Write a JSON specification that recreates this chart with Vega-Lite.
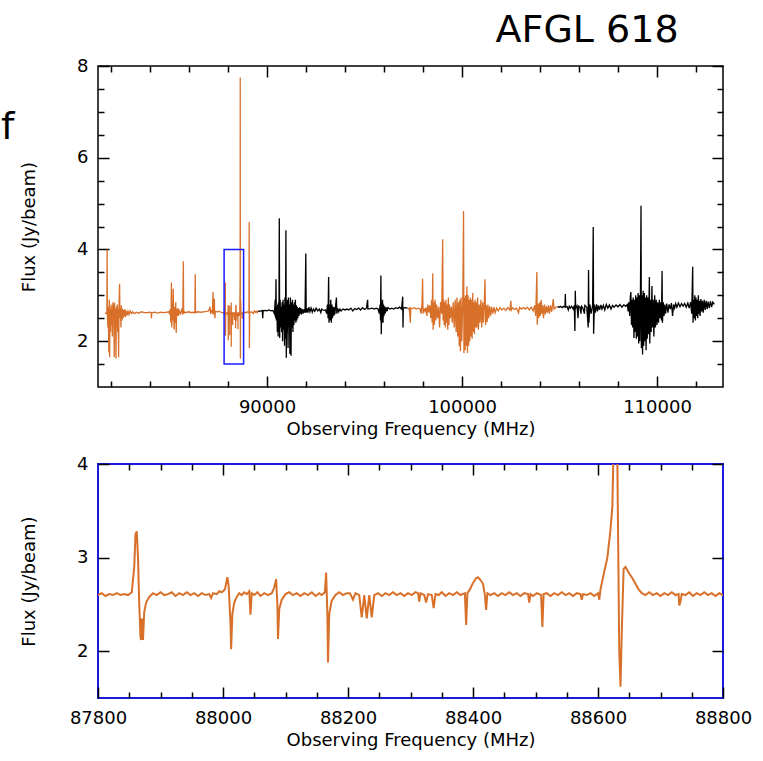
{
  "$schema": "https://vega.github.io/schema/vega-lite/v6.json",
  "background": "white",
  "padding": {"left": 0, "top": 12, "right": 0, "bottom": 0},
  "bounds": "flush",
  "spacing": 77,
  "title": {"text": "AFGL 618", "font": "DejaVu Sans", "fontSize": 38, "fontWeight": "normal", "color": "black", "anchor": "end", "dx": -74, "offset": 6},
  "config": {
    "axis": {"labelFont": "DejaVu Sans", "labelFontSize": 18, "labelColor": "black", "titleFont": "DejaVu Sans", "titleFontSize": 18, "titleFontWeight": "normal", "titleColor": "black", "tickColor": "black", "tickWidth": 1.5, "domain": false, "grid": false, "labelFlush": false, "labelOverlap": false}
  },
  "datasets": {
    "spec": [
      {"f":81700,"v":2.62,"s":"o1"},{"f":81760,"v":2.6,"s":"o1"},{"f":81790,"v":2.62,"s":"o1"},{"f":81800,"v":4.0,"s":"o1"},{"f":81815,"v":2.6,"s":"o1"},{"f":81840,"v":2.3,"s":"o1"},{"f":81860,"v":2.75,"s":"o1"},{"f":81890,"v":1.75,"s":"o1"},{"f":81910,"v":2.9,"s":"o1"},{"f":81930,"v":1.65,"s":"o1"},{"f":81950,"v":2.7,"s":"o1"},{"f":81975,"v":2.2,"s":"o1"},{"f":82000,"v":2.8,"s":"o1"},{"f":82020,"v":2.35,"s":"o1"},{"f":82045,"v":2.75,"s":"o1"},{"f":82070,"v":2.1,"s":"o1"},{"f":82095,"v":2.85,"s":"o1"},{"f":82115,"v":2.45,"s":"o1"},{"f":82140,"v":2.8,"s":"o1"},{"f":82165,"v":1.65,"s":"o1"},{"f":82185,"v":2.84,"s":"o1"},{"f":82205,"v":2.25,"s":"o1"},{"f":82230,"v":2.7,"s":"o1"},{"f":82255,"v":1.62,"s":"o1"},{"f":82275,"v":2.75,"s":"o1"},{"f":82300,"v":2.3,"s":"o1"},{"f":82320,"v":2.8,"s":"o1"},{"f":82345,"v":2.2,"s":"o1"},{"f":82365,"v":2.7,"s":"o1"},{"f":82390,"v":1.65,"s":"o1"},{"f":82410,"v":2.75,"s":"o1"},{"f":82440,"v":3.25,"s":"o1"},{"f":82460,"v":2.5,"s":"o1"},{"f":82485,"v":2.72,"s":"o1"},{"f":82510,"v":2.3,"s":"o1"},{"f":82535,"v":2.78,"s":"o1"},{"f":82560,"v":2.45,"s":"o1"},{"f":82590,"v":2.7,"s":"o1"},{"f":82620,"v":2.5,"s":"o1"},{"f":82650,"v":2.68,"s":"o1"},{"f":82680,"v":2.55,"s":"o1"},{"f":82710,"v":2.7,"s":"o1"},{"f":82740,"v":2.52,"s":"o1"},{"f":82780,"v":2.66,"s":"o1"},{"f":82820,"v":2.56,"s":"o1"},{"f":82870,"v":2.65,"s":"o1"},{"f":82920,"v":2.58,"s":"o1"},{"f":82980,"v":2.66,"s":"o1"},{"f":83050,"v":2.6,"s":"o1"},{"f":83120,"v":2.64,"s":"o1"},{"f":83200,"v":2.6,"s":"o1"},{"f":83300,"v":2.63,"s":"o1"},{"f":83420,"v":2.61,"s":"o1"},{"f":83560,"v":2.64,"s":"o1"},{"f":83700,"v":2.62,"s":"o1"},{"f":83850,"v":2.62,"s":"o1"},{"f":84000,"v":2.63,"s":"o1"},{"f":84060,"v":2.62,"s":"o1"},{"f":84075,"v":2.5,"s":"o1"},{"f":84090,"v":2.62,"s":"o1"},{"f":84250,"v":2.63,"s":"o1"},{"f":84400,"v":2.61,"s":"o1"},{"f":84550,"v":2.63,"s":"o1"},{"f":84700,"v":2.62,"s":"o1"},{"f":84850,"v":2.63,"s":"o1"},{"f":84950,"v":2.64,"s":"o1"},{"f":85000,"v":2.6,"s":"o1"},{"f":85040,"v":2.7,"s":"o1"},{"f":85070,"v":2.4,"s":"o1"},{"f":85100,"v":3.28,"s":"o1"},{"f":85120,"v":2.3,"s":"o1"},{"f":85145,"v":2.8,"s":"o1"},{"f":85165,"v":2.45,"s":"o1"},{"f":85190,"v":3.14,"s":"o1"},{"f":85210,"v":2.6,"s":"o1"},{"f":85240,"v":2.25,"s":"o1"},{"f":85265,"v":2.75,"s":"o1"},{"f":85290,"v":2.4,"s":"o1"},{"f":85320,"v":2.85,"s":"o1"},{"f":85345,"v":2.18,"s":"o1"},{"f":85370,"v":2.7,"s":"o1"},{"f":85400,"v":2.55,"s":"o1"},{"f":85430,"v":2.72,"s":"o1"},{"f":85460,"v":2.55,"s":"o1"},{"f":85500,"v":2.66,"s":"o1"},{"f":85560,"v":2.6,"s":"o1"},{"f":85620,"v":2.68,"s":"o1"},{"f":85680,"v":2.58,"s":"o1"},{"f":85710,"v":3.74,"s":"o1"},{"f":85725,"v":2.6,"s":"o1"},{"f":85760,"v":2.64,"s":"o1"},{"f":85800,"v":2.62,"s":"o1"},{"f":85900,"v":2.63,"s":"o1"},{"f":86000,"v":2.64,"s":"o1"},{"f":86100,"v":2.62,"s":"o1"},{"f":86200,"v":2.63,"s":"o1"},{"f":86300,"v":2.62,"s":"o1"},{"f":86320,"v":3.46,"s":"o1"},{"f":86335,"v":2.62,"s":"o1"},{"f":86450,"v":2.64,"s":"o1"},{"f":86600,"v":2.63,"s":"o1"},{"f":86750,"v":2.64,"s":"o1"},{"f":86900,"v":2.65,"s":"o1"},{"f":87000,"v":2.66,"s":"o1"},{"f":87080,"v":2.75,"s":"o1"},{"f":87100,"v":2.62,"s":"o1"},{"f":87150,"v":2.66,"s":"o1"},{"f":87200,"v":2.6,"s":"o1"},{"f":87230,"v":3.07,"s":"o1"},{"f":87245,"v":2.6,"s":"o1"},{"f":87280,"v":2.62,"s":"o1"},{"f":87300,"v":2.93,"s":"o1"},{"f":87315,"v":2.6,"s":"o1"},{"f":87330,"v":2.5,"s":"o1"},{"f":87350,"v":2.65,"s":"o1"},{"f":87450,"v":2.64,"s":"o1"},{"f":87550,"v":2.65,"s":"o1"},{"f":87650,"v":2.63,"s":"o1"},{"f":87720,"v":2.62,"s":"o1"},
      {"f":87780,"v":2.61,"s":"o1"},{"f":87800,"v":2.6,"s":"o1"},{"f":87806,"v":2.62,"s":"o1"},{"f":87812,"v":2.59,"s":"o1"},{"f":87818,"v":2.61,"s":"o1"},{"f":87824,"v":2.6,"s":"o1"},{"f":87830,"v":2.62,"s":"o1"},{"f":87836,"v":2.6,"s":"o1"},{"f":87842,"v":2.61,"s":"o1"},{"f":87848,"v":2.6,"s":"o1"},{"f":87854,"v":2.63,"s":"o1"},{"f":87858,"v":2.9,"s":"o1"},{"f":87860,"v":3.25,"s":"o1"},{"f":87862,"v":3.28,"s":"o1"},{"f":87864,"v":3.0,"s":"o1"},{"f":87866,"v":2.5,"s":"o1"},{"f":87868,"v":2.15,"s":"o1"},{"f":87869,"v":2.12,"s":"o1"},{"f":87870,"v":2.35,"s":"o1"},{"f":87871,"v":2.3,"s":"o1"},{"f":87872,"v":2.12,"s":"o1"},{"f":87874,"v":2.42,"s":"o1"},{"f":87877,"v":2.52,"s":"o1"},{"f":87882,"v":2.58,"s":"o1"},{"f":87888,"v":2.62,"s":"o1"},{"f":87894,"v":2.6,"s":"o1"},{"f":87900,"v":2.63,"s":"o1"},{"f":87906,"v":2.6,"s":"o1"},{"f":87912,"v":2.61,"s":"o1"},{"f":87918,"v":2.63,"s":"o1"},{"f":87924,"v":2.59,"s":"o1"},{"f":87930,"v":2.62,"s":"o1"},{"f":87936,"v":2.6,"s":"o1"},{"f":87942,"v":2.63,"s":"o1"},{"f":87948,"v":2.6,"s":"o1"},{"f":87954,"v":2.62,"s":"o1"},{"f":87960,"v":2.59,"s":"o1"},{"f":87966,"v":2.62,"s":"o1"},{"f":87972,"v":2.6,"s":"o1"},{"f":87978,"v":2.61,"s":"o1"},{"f":87981,"v":2.57,"s":"o1"},{"f":87984,"v":2.62,"s":"o1"},{"f":87990,"v":2.61,"s":"o1"},{"f":87994,"v":2.64,"s":"o1"},{"f":87998,"v":2.63,"s":"o1"},{"f":88003,"v":2.66,"s":"o1"},{"f":88007,"v":2.79,"s":"o1"},{"f":88009,"v":2.7,"s":"o1"},{"f":88012,"v":2.3,"s":"o1"},{"f":88013,"v":2.02,"s":"o1"},{"f":88015,"v":2.4,"s":"o1"},{"f":88018,"v":2.52,"s":"o1"},{"f":88022,"v":2.58,"s":"o1"},{"f":88026,"v":2.62,"s":"o1"},{"f":88030,"v":2.6,"s":"o1"},{"f":88034,"v":2.63,"s":"o1"},{"f":88038,"v":2.61,"s":"o1"},{"f":88042,"v":2.64,"s":"o1"},{"f":88044,"v":2.39,"s":"o1"},{"f":88046,"v":2.62,"s":"o1"},{"f":88050,"v":2.6,"s":"o1"},{"f":88055,"v":2.63,"s":"o1"},{"f":88060,"v":2.59,"s":"o1"},{"f":88066,"v":2.62,"s":"o1"},{"f":88072,"v":2.6,"s":"o1"},{"f":88078,"v":2.62,"s":"o1"},{"f":88082,"v":2.68,"s":"o1"},{"f":88085,"v":2.77,"s":"o1"},{"f":88087,"v":2.5,"s":"o1"},{"f":88088,"v":2.13,"s":"o1"},{"f":88090,"v":2.45,"s":"o1"},{"f":88094,"v":2.55,"s":"o1"},{"f":88100,"v":2.61,"s":"o1"},{"f":88106,"v":2.63,"s":"o1"},{"f":88112,"v":2.6,"s":"o1"},{"f":88118,"v":2.62,"s":"o1"},{"f":88124,"v":2.59,"s":"o1"},{"f":88130,"v":2.62,"s":"o1"},{"f":88136,"v":2.6,"s":"o1"},{"f":88142,"v":2.63,"s":"o1"},{"f":88148,"v":2.59,"s":"o1"},{"f":88154,"v":2.62,"s":"o1"},{"f":88158,"v":2.6,"s":"o1"},{"f":88163,"v":2.63,"s":"o1"},{"f":88165,"v":2.84,"s":"o1"},{"f":88167,"v":2.4,"s":"o1"},{"f":88168,"v":1.88,"s":"o1"},{"f":88170,"v":2.4,"s":"o1"},{"f":88174,"v":2.54,"s":"o1"},{"f":88180,"v":2.6,"s":"o1"},{"f":88186,"v":2.63,"s":"o1"},{"f":88192,"v":2.6,"s":"o1"},{"f":88198,"v":2.62,"s":"o1"},{"f":88203,"v":2.62,"s":"o1"},{"f":88208,"v":2.55,"s":"o1"},{"f":88212,"v":2.62,"s":"o1"},{"f":88218,"v":2.6,"s":"o1"},{"f":88222,"v":2.36,"s":"o1"},{"f":88226,"v":2.6,"s":"o1"},{"f":88230,"v":2.35,"s":"o1"},{"f":88234,"v":2.6,"s":"o1"},{"f":88238,"v":2.36,"s":"o1"},{"f":88242,"v":2.6,"s":"o1"},{"f":88248,"v":2.62,"s":"o1"},{"f":88254,"v":2.59,"s":"o1"},{"f":88260,"v":2.62,"s":"o1"},{"f":88266,"v":2.6,"s":"o1"},{"f":88272,"v":2.63,"s":"o1"},{"f":88278,"v":2.6,"s":"o1"},{"f":88284,"v":2.62,"s":"o1"},{"f":88290,"v":2.59,"s":"o1"},{"f":88296,"v":2.62,"s":"o1"},{"f":88302,"v":2.6,"s":"o1"},{"f":88308,"v":2.63,"s":"o1"},{"f":88312,"v":2.62,"s":"o1"},{"f":88314,"v":2.53,"s":"o1"},{"f":88316,"v":2.62,"s":"o1"},{"f":88322,"v":2.6,"s":"o1"},{"f":88325,"v":2.52,"s":"o1"},{"f":88328,"v":2.61,"s":"o1"},{"f":88334,"v":2.6,"s":"o1"},{"f":88337,"v":2.46,"s":"o1"},{"f":88340,"v":2.61,"s":"o1"},{"f":88345,"v":2.6,"s":"o1"},{"f":88350,"v":2.63,"s":"o1"},{"f":88356,"v":2.59,"s":"o1"},{"f":88362,"v":2.62,"s":"o1"},{"f":88368,"v":2.6,"s":"o1"},{"f":88374,"v":2.63,"s":"o1"},{"f":88380,"v":2.6,"s":"o1"},{"f":88387,"v":2.62,"s":"o1"},{"f":88389,"v":2.28,"s":"o1"},{"f":88391,"v":2.62,"s":"o1"},{"f":88395,"v":2.66,"s":"o1"},{"f":88400,"v":2.73,"s":"o1"},{"f":88405,"v":2.78,"s":"o1"},{"f":88408,"v":2.79,"s":"o1"},{"f":88412,"v":2.76,"s":"o1"},{"f":88416,"v":2.72,"s":"o1"},{"f":88419,"v":2.6,"s":"o1"},{"f":88421,"v":2.44,"s":"o1"},{"f":88423,"v":2.62,"s":"o1"},{"f":88428,"v":2.6,"s":"o1"},{"f":88434,"v":2.62,"s":"o1"},{"f":88440,"v":2.59,"s":"o1"},{"f":88446,"v":2.62,"s":"o1"},{"f":88452,"v":2.6,"s":"o1"},{"f":88458,"v":2.63,"s":"o1"},{"f":88464,"v":2.6,"s":"o1"},{"f":88470,"v":2.62,"s":"o1"},{"f":88476,"v":2.59,"s":"o1"},{"f":88482,"v":2.62,"s":"o1"},{"f":88488,"v":2.61,"s":"o1"},{"f":88490,"v":2.52,"s":"o1"},{"f":88492,"v":2.61,"s":"o1"},{"f":88496,"v":2.59,"s":"o1"},{"f":88502,"v":2.62,"s":"o1"},{"f":88509,"v":2.6,"s":"o1"},{"f":88511,"v":2.26,"s":"o1"},{"f":88513,"v":2.61,"s":"o1"},{"f":88518,"v":2.62,"s":"o1"},{"f":88524,"v":2.59,"s":"o1"},{"f":88530,"v":2.62,"s":"o1"},{"f":88536,"v":2.6,"s":"o1"},{"f":88542,"v":2.63,"s":"o1"},{"f":88548,"v":2.6,"s":"o1"},{"f":88554,"v":2.62,"s":"o1"},{"f":88560,"v":2.59,"s":"o1"},{"f":88566,"v":2.62,"s":"o1"},{"f":88572,"v":2.61,"s":"o1"},{"f":88574,"v":2.55,"s":"o1"},{"f":88576,"v":2.61,"s":"o1"},{"f":88582,"v":2.6,"s":"o1"},{"f":88588,"v":2.62,"s":"o1"},{"f":88594,"v":2.59,"s":"o1"},{"f":88600,"v":2.62,"s":"o1"},{"f":88602,"v":2.55,"s":"o1"},{"f":88604,"v":2.66,"s":"o1"},{"f":88610,"v":2.85,"s":"o1"},{"f":88615,"v":3.0,"s":"o1"},{"f":88620,"v":3.3,"s":"o1"},{"f":88623,"v":3.55,"s":"o1"},{"f":88625,"v":4.2,"s":"o1"},{"f":88627,"v":7.75,"s":"o1"},{"f":88631,"v":4.0,"s":"o1"},{"f":88634,"v":2.0,"s":"o1"},{"f":88636,"v":1.62,"s":"o1"},{"f":88638,"v":2.2,"s":"o1"},{"f":88641,"v":2.88,"s":"o1"},{"f":88644,"v":2.9,"s":"o1"},{"f":88650,"v":2.83,"s":"o1"},{"f":88655,"v":2.78,"s":"o1"},{"f":88660,"v":2.72,"s":"o1"},{"f":88665,"v":2.66,"s":"o1"},{"f":88670,"v":2.62,"s":"o1"},{"f":88676,"v":2.6,"s":"o1"},{"f":88682,"v":2.63,"s":"o1"},{"f":88688,"v":2.6,"s":"o1"},{"f":88694,"v":2.62,"s":"o1"},{"f":88700,"v":2.59,"s":"o1"},{"f":88706,"v":2.62,"s":"o1"},{"f":88712,"v":2.6,"s":"o1"},{"f":88718,"v":2.63,"s":"o1"},{"f":88724,"v":2.6,"s":"o1"},{"f":88729,"v":2.61,"s":"o1"},{"f":88730,"v":2.49,"s":"o1"},{"f":88732,"v":2.53,"s":"o1"},{"f":88734,"v":2.61,"s":"o1"},{"f":88740,"v":2.6,"s":"o1"},{"f":88746,"v":2.63,"s":"o1"},{"f":88752,"v":2.59,"s":"o1"},{"f":88758,"v":2.62,"s":"o1"},{"f":88764,"v":2.6,"s":"o1"},{"f":88770,"v":2.63,"s":"o1"},{"f":88776,"v":2.6,"s":"o1"},{"f":88782,"v":2.62,"s":"o1"},{"f":88788,"v":2.59,"s":"o1"},{"f":88794,"v":2.62,"s":"o1"},{"f":88800,"v":2.6,"s":"o1"},{"f":88806,"v":2.62,"s":"o1"},{"f":88812,"v":2.61,"s":"o1"},
      {"f":88900,"v":2.63,"s":"o1"},{"f":88950,"v":2.62,"s":"o1"},{"f":89000,"v":2.64,"s":"o1"},{"f":89050,"v":2.62,"s":"o1"},{"f":89075,"v":2.63,"s":"o1"},{"f":89085,"v":4.6,"s":"o1"},{"f":89095,"v":1.85,"s":"o1"},{"f":89110,"v":2.62,"s":"o1"},{"f":89200,"v":2.64,"s":"o1"},{"f":89300,"v":2.6,"s":"o1"},{"f":89350,"v":2.66,"s":"o1"},{"f":89400,"v":2.63,"s":"o1"},{"f":89450,"v":2.65,"s":"o1"},{"f":89500,"v":2.62,"s":"o1"},{"f":89540,"v":2.66,"s":"o1"},
      {"f":89540,"v":2.66,"s":"k1"},{"f":89600,"v":2.65,"s":"k1"},{"f":89700,"v":2.66,"s":"k1"},{"f":89760,"v":2.67,"s":"k1"},{"f":89780,"v":2.5,"s":"k1"},{"f":89800,"v":2.66,"s":"k1"},{"f":89900,"v":2.67,"s":"k1"},{"f":90000,"v":2.66,"s":"k1"},{"f":90100,"v":2.68,"s":"k1"},{"f":90200,"v":2.66,"s":"k1"},{"f":90300,"v":2.67,"s":"k1"},{"f":90380,"v":2.6,"s":"k1"},{"f":90420,"v":2.9,"s":"k1"},{"f":90440,"v":2.5,"s":"k1"},{"f":90460,"v":3.35,"s":"k1"},{"f":90480,"v":2.45,"s":"k1"},{"f":90510,"v":2.75,"s":"k1"},{"f":90530,"v":2.2,"s":"k1"},{"f":90550,"v":2.8,"s":"k1"},{"f":90570,"v":2.1,"s":"k1"},{"f":90590,"v":2.85,"s":"k1"},{"f":90610,"v":2.2,"s":"k1"},{"f":90630,"v":4.68,"s":"k1"},{"f":90650,"v":2.07,"s":"k1"},{"f":90675,"v":2.9,"s":"k1"},{"f":90700,"v":2.3,"s":"k1"},{"f":90725,"v":2.75,"s":"k1"},{"f":90750,"v":2.2,"s":"k1"},{"f":90775,"v":2.85,"s":"k1"},{"f":90800,"v":2.0,"s":"k1"},{"f":90825,"v":2.9,"s":"k1"},{"f":90850,"v":2.25,"s":"k1"},{"f":90875,"v":2.8,"s":"k1"},{"f":90900,"v":1.9,"s":"k1"},{"f":90920,"v":2.95,"s":"k1"},{"f":90945,"v":2.05,"s":"k1"},{"f":90970,"v":4.42,"s":"k1"},{"f":90990,"v":1.64,"s":"k1"},{"f":91010,"v":2.85,"s":"k1"},{"f":91030,"v":2.2,"s":"k1"},{"f":91055,"v":2.9,"s":"k1"},{"f":91080,"v":1.85,"s":"k1"},{"f":91100,"v":2.95,"s":"k1"},{"f":91125,"v":2.3,"s":"k1"},{"f":91150,"v":2.8,"s":"k1"},{"f":91175,"v":1.72,"s":"k1"},{"f":91200,"v":2.95,"s":"k1"},{"f":91230,"v":1.68,"s":"k1"},{"f":91255,"v":2.85,"s":"k1"},{"f":91280,"v":2.3,"s":"k1"},{"f":91305,"v":2.9,"s":"k1"},{"f":91330,"v":2.2,"s":"k1"},{"f":91355,"v":2.8,"s":"k1"},{"f":91380,"v":2.35,"s":"k1"},{"f":91405,"v":2.85,"s":"k1"},{"f":91430,"v":2.45,"s":"k1"},{"f":91455,"v":2.9,"s":"k1"},{"f":91480,"v":2.4,"s":"k1"},{"f":91505,"v":2.78,"s":"k1"},{"f":91530,"v":2.45,"s":"k1"},{"f":91555,"v":2.75,"s":"k1"},{"f":91580,"v":2.5,"s":"k1"},{"f":91610,"v":2.72,"s":"k1"},{"f":91640,"v":2.55,"s":"k1"},{"f":91670,"v":2.74,"s":"k1"},{"f":91700,"v":2.6,"s":"k1"},{"f":91730,"v":2.72,"s":"k1"},{"f":91760,"v":2.58,"s":"k1"},{"f":91800,"v":2.7,"s":"k1"},{"f":91850,"v":2.6,"s":"k1"},{"f":91900,"v":2.7,"s":"k1"},{"f":91950,"v":2.62,"s":"k1"},{"f":91990,"v":3.91,"s":"k1"},{"f":92010,"v":2.62,"s":"k1"},{"f":92050,"v":2.72,"s":"k1"},{"f":92100,"v":2.62,"s":"k1"},{"f":92150,"v":2.74,"s":"k1"},{"f":92200,"v":2.64,"s":"k1"},{"f":92260,"v":2.72,"s":"k1"},{"f":92320,"v":2.63,"s":"k1"},{"f":92380,"v":2.7,"s":"k1"},{"f":92450,"v":2.65,"s":"k1"},{"f":92520,"v":2.72,"s":"k1"},{"f":92600,"v":2.66,"s":"k1"},{"f":92680,"v":2.7,"s":"k1"},{"f":92760,"v":2.62,"s":"k1"},{"f":92800,"v":2.7,"s":"k1"},{"f":92900,"v":2.67,"s":"k1"},{"f":93000,"v":2.68,"s":"k1"},{"f":93060,"v":2.6,"s":"k1"},{"f":93100,"v":2.8,"s":"k1"},{"f":93130,"v":2.5,"s":"k1"},{"f":93160,"v":3.4,"s":"k1"},{"f":93180,"v":2.4,"s":"k1"},{"f":93210,"v":2.8,"s":"k1"},{"f":93240,"v":2.45,"s":"k1"},{"f":93270,"v":2.9,"s":"k1"},{"f":93300,"v":2.4,"s":"k1"},{"f":93330,"v":2.8,"s":"k1"},{"f":93360,"v":2.5,"s":"k1"},{"f":93390,"v":2.75,"s":"k1"},{"f":93420,"v":2.55,"s":"k1"},{"f":93450,"v":2.74,"s":"k1"},{"f":93480,"v":2.58,"s":"k1"},{"f":93520,"v":2.78,"s":"k1"},{"f":93560,"v":2.95,"s":"k1"},{"f":93580,"v":2.6,"s":"k1"},{"f":93620,"v":2.72,"s":"k1"},{"f":93680,"v":2.64,"s":"k1"},{"f":93740,"v":2.7,"s":"k1"},{"f":93800,"v":2.66,"s":"k1"},{"f":93900,"v":2.7,"s":"k1"},{"f":94000,"v":2.68,"s":"k1"},{"f":94100,"v":2.7,"s":"k1"},{"f":94200,"v":2.68,"s":"k1"},{"f":94300,"v":2.72,"s":"k1"},{"f":94400,"v":2.66,"s":"k1"},{"f":94500,"v":2.71,"s":"k1"},{"f":94600,"v":2.69,"s":"k1"},{"f":94700,"v":2.72,"s":"k1"},{"f":94800,"v":2.68,"s":"k1"},{"f":94900,"v":2.73,"s":"k1"},{"f":95000,"v":2.69,"s":"k1"},{"f":95100,"v":2.72,"s":"k1"},{"f":95160,"v":2.9,"s":"k1"},{"f":95175,"v":2.7,"s":"k1"},{"f":95300,"v":2.71,"s":"k1"},{"f":95400,"v":2.72,"s":"k1"},{"f":95500,"v":2.7,"s":"k1"},{"f":95600,"v":2.72,"s":"k1"},{"f":95700,"v":2.7,"s":"k1"},{"f":95760,"v":2.6,"s":"k1"},{"f":95800,"v":2.8,"s":"k1"},{"f":95820,"v":2.45,"s":"k1"},{"f":95840,"v":3.43,"s":"k1"},{"f":95860,"v":2.15,"s":"k1"},{"f":95880,"v":2.85,"s":"k1"},{"f":95900,"v":2.4,"s":"k1"},{"f":95925,"v":2.9,"s":"k1"},{"f":95950,"v":2.4,"s":"k1"},{"f":95975,"v":2.8,"s":"k1"},{"f":96000,"v":2.55,"s":"k1"},{"f":96030,"v":2.76,"s":"k1"},{"f":96060,"v":2.6,"s":"k1"},{"f":96100,"v":2.74,"s":"k1"},{"f":96150,"v":2.65,"s":"k1"},{"f":96200,"v":2.73,"s":"k1"},{"f":96300,"v":2.7,"s":"k1"},{"f":96400,"v":2.72,"s":"k1"},{"f":96500,"v":2.7,"s":"k1"},{"f":96600,"v":2.73,"s":"k1"},{"f":96700,"v":2.71,"s":"k1"},{"f":96800,"v":2.74,"s":"k1"},{"f":96900,"v":2.7,"s":"k1"},{"f":96960,"v":2.97,"s":"k1"},{"f":96975,"v":2.3,"s":"k1"},{"f":96990,"v":2.72,"s":"k1"},{"f":97100,"v":2.73,"s":"k1"},{"f":97210,"v":2.72,"s":"k1"},
      {"f":97210,"v":2.72,"s":"o2"},{"f":97260,"v":2.7,"s":"o2"},{"f":97300,"v":2.72,"s":"o2"},{"f":97350,"v":2.4,"s":"o2"},{"f":97370,"v":2.72,"s":"o2"},{"f":97450,"v":2.71,"s":"o2"},{"f":97550,"v":2.73,"s":"o2"},{"f":97650,"v":2.7,"s":"o2"},{"f":97750,"v":2.72,"s":"o2"},{"f":97850,"v":2.7,"s":"o2"},{"f":97900,"v":2.6,"s":"o2"},{"f":97950,"v":2.82,"s":"o2"},{"f":97980,"v":3.36,"s":"o2"},{"f":98000,"v":2.6,"s":"o2"},{"f":98050,"v":2.72,"s":"o2"},{"f":98100,"v":2.65,"s":"o2"},{"f":98150,"v":2.73,"s":"o2"},{"f":98200,"v":2.55,"s":"o2"},{"f":98250,"v":2.8,"s":"o2"},{"f":98300,"v":2.62,"s":"o2"},{"f":98350,"v":2.78,"s":"o2"},{"f":98400,"v":2.5,"s":"o2"},{"f":98440,"v":2.9,"s":"o2"},{"f":98470,"v":2.4,"s":"o2"},{"f":98500,"v":3.48,"s":"o2"},{"f":98520,"v":2.25,"s":"o2"},{"f":98550,"v":2.85,"s":"o2"},{"f":98580,"v":2.35,"s":"o2"},{"f":98620,"v":2.9,"s":"o2"},{"f":98660,"v":2.45,"s":"o2"},{"f":98700,"v":2.8,"s":"o2"},{"f":98750,"v":2.5,"s":"o2"},{"f":98800,"v":2.75,"s":"o2"},{"f":98850,"v":2.3,"s":"o2"},{"f":98900,"v":2.85,"s":"o2"},{"f":98960,"v":2.6,"s":"o2"},{"f":99010,"v":4.22,"s":"o2"},{"f":99030,"v":2.45,"s":"o2"},{"f":99060,"v":2.9,"s":"o2"},{"f":99090,"v":2.35,"s":"o2"},{"f":99120,"v":2.85,"s":"o2"},{"f":99150,"v":2.3,"s":"o2"},{"f":99180,"v":2.9,"s":"o2"},{"f":99210,"v":2.4,"s":"o2"},{"f":99240,"v":2.8,"s":"o2"},{"f":99270,"v":2.25,"s":"o2"},{"f":99300,"v":2.95,"s":"o2"},{"f":99330,"v":2.35,"s":"o2"},{"f":99360,"v":2.8,"s":"o2"},{"f":99400,"v":2.5,"s":"o2"},{"f":99450,"v":2.75,"s":"o2"},{"f":99500,"v":2.4,"s":"o2"},{"f":99550,"v":2.85,"s":"o2"},{"f":99600,"v":2.3,"s":"o2"},{"f":99650,"v":2.9,"s":"o2"},{"f":99700,"v":2.2,"s":"o2"},{"f":99740,"v":2.95,"s":"o2"},{"f":99780,"v":2.1,"s":"o2"},{"f":99820,"v":2.85,"s":"o2"},{"f":99860,"v":1.89,"s":"o2"},{"f":99890,"v":2.9,"s":"o2"},{"f":99920,"v":1.78,"s":"o2"},{"f":99950,"v":2.95,"s":"o2"},{"f":99990,"v":2.0,"s":"o2"},{"f":100040,"v":2.9,"s":"o2"},{"f":100080,"v":4.84,"s":"o2"},{"f":100100,"v":1.74,"s":"o2"},{"f":100130,"v":2.95,"s":"o2"},{"f":100160,"v":1.8,"s":"o2"},{"f":100190,"v":3.0,"s":"o2"},{"f":100220,"v":1.9,"s":"o2"},{"f":100250,"v":3.19,"s":"o2"},{"f":100280,"v":1.74,"s":"o2"},{"f":100310,"v":3.0,"s":"o2"},{"f":100340,"v":1.9,"s":"o2"},{"f":100370,"v":2.9,"s":"o2"},{"f":100400,"v":2.0,"s":"o2"},{"f":100430,"v":2.95,"s":"o2"},{"f":100460,"v":2.1,"s":"o2"},{"f":100490,"v":2.9,"s":"o2"},{"f":100520,"v":2.05,"s":"o2"},{"f":100550,"v":3.05,"s":"o2"},{"f":100580,"v":2.2,"s":"o2"},{"f":100610,"v":2.85,"s":"o2"},{"f":100640,"v":2.15,"s":"o2"},{"f":100670,"v":2.9,"s":"o2"},{"f":100700,"v":2.3,"s":"o2"},{"f":100730,"v":2.85,"s":"o2"},{"f":100760,"v":2.3,"s":"o2"},{"f":100800,"v":2.95,"s":"o2"},{"f":100840,"v":2.25,"s":"o2"},{"f":100880,"v":2.8,"s":"o2"},{"f":100920,"v":2.4,"s":"o2"},{"f":100970,"v":2.9,"s":"o2"},{"f":101010,"v":2.3,"s":"o2"},{"f":101060,"v":2.85,"s":"o2"},{"f":101100,"v":2.4,"s":"o2"},{"f":101140,"v":2.8,"s":"o2"},{"f":101180,"v":3.35,"s":"o2"},{"f":101210,"v":2.35,"s":"o2"},{"f":101250,"v":2.78,"s":"o2"},{"f":101290,"v":2.42,"s":"o2"},{"f":101330,"v":2.8,"s":"o2"},{"f":101370,"v":2.5,"s":"o2"},{"f":101420,"v":2.76,"s":"o2"},{"f":101470,"v":2.55,"s":"o2"},{"f":101520,"v":2.75,"s":"o2"},{"f":101580,"v":2.6,"s":"o2"},{"f":101640,"v":2.74,"s":"o2"},{"f":101700,"v":2.62,"s":"o2"},{"f":101780,"v":2.72,"s":"o2"},{"f":101860,"v":2.66,"s":"o2"},{"f":101950,"v":2.73,"s":"o2"},{"f":102050,"v":2.68,"s":"o2"},{"f":102150,"v":2.72,"s":"o2"},{"f":102250,"v":2.67,"s":"o2"},{"f":102350,"v":2.73,"s":"o2"},{"f":102450,"v":2.68,"s":"o2"},{"f":102510,"v":2.88,"s":"o2"},{"f":102530,"v":2.68,"s":"o2"},{"f":102600,"v":2.73,"s":"o2"},{"f":102700,"v":2.69,"s":"o2"},{"f":102800,"v":2.72,"s":"o2"},{"f":102900,"v":2.62,"s":"o2"},{"f":102950,"v":2.74,"s":"o2"},{"f":103050,"v":2.7,"s":"o2"},{"f":103150,"v":2.73,"s":"o2"},{"f":103250,"v":2.7,"s":"o2"},{"f":103350,"v":2.74,"s":"o2"},{"f":103450,"v":2.68,"s":"o2"},{"f":103550,"v":2.74,"s":"o2"},{"f":103650,"v":2.66,"s":"o2"},{"f":103720,"v":2.78,"s":"o2"},{"f":103780,"v":2.55,"s":"o2"},{"f":103840,"v":3.51,"s":"o2"},{"f":103860,"v":2.36,"s":"o2"},{"f":103900,"v":2.82,"s":"o2"},{"f":103940,"v":2.5,"s":"o2"},{"f":103980,"v":2.85,"s":"o2"},{"f":104020,"v":2.55,"s":"o2"},{"f":104060,"v":2.9,"s":"o2"},{"f":104100,"v":2.6,"s":"o2"},{"f":104140,"v":2.78,"s":"o2"},{"f":104180,"v":2.5,"s":"o2"},{"f":104230,"v":2.8,"s":"o2"},{"f":104280,"v":2.58,"s":"o2"},{"f":104330,"v":2.76,"s":"o2"},{"f":104380,"v":2.62,"s":"o2"},{"f":104430,"v":2.78,"s":"o2"},{"f":104480,"v":2.6,"s":"o2"},{"f":104540,"v":2.78,"s":"o2"},{"f":104600,"v":2.64,"s":"o2"},{"f":104680,"v":2.92,"s":"o2"},{"f":104720,"v":2.7,"s":"o2"},{"f":104800,"v":2.74,"s":"o2"},{"f":104900,"v":2.74,"s":"o2"},
      {"f":104900,"v":2.74,"s":"k2"},{"f":104950,"v":2.75,"s":"k2"},{"f":105000,"v":2.74,"s":"k2"},{"f":105050,"v":2.76,"s":"k2"},{"f":105100,"v":2.74,"s":"k2"},{"f":105150,"v":2.73,"s":"k2"},{"f":105200,"v":2.76,"s":"k2"},{"f":105280,"v":2.74,"s":"k2"},{"f":105300,"v":3.03,"s":"k2"},{"f":105320,"v":2.74,"s":"k2"},{"f":105400,"v":2.75,"s":"k2"},{"f":105450,"v":2.68,"s":"k2"},{"f":105500,"v":2.76,"s":"k2"},{"f":105550,"v":2.72,"s":"k2"},{"f":105620,"v":2.76,"s":"k2"},{"f":105700,"v":2.7,"s":"k2"},{"f":105760,"v":2.78,"s":"k2"},{"f":105790,"v":2.22,"s":"k2"},{"f":105810,"v":3.1,"s":"k2"},{"f":105830,"v":2.72,"s":"k2"},{"f":105900,"v":2.77,"s":"k2"},{"f":105950,"v":2.5,"s":"k2"},{"f":105980,"v":2.76,"s":"k2"},{"f":106050,"v":2.74,"s":"k2"},{"f":106100,"v":2.6,"s":"k2"},{"f":106130,"v":2.76,"s":"k2"},{"f":106200,"v":2.72,"s":"k2"},{"f":106280,"v":2.6,"s":"k2"},{"f":106300,"v":2.78,"s":"k2"},{"f":106400,"v":2.74,"s":"k2"},{"f":106470,"v":2.3,"s":"k2"},{"f":106490,"v":3.55,"s":"k2"},{"f":106510,"v":2.4,"s":"k2"},{"f":106560,"v":2.8,"s":"k2"},{"f":106620,"v":2.6,"s":"k2"},{"f":106700,"v":2.78,"s":"k2"},{"f":106730,"v":4.49,"s":"k2"},{"f":106750,"v":2.16,"s":"k2"},{"f":106790,"v":2.8,"s":"k2"},{"f":106840,"v":2.62,"s":"k2"},{"f":106900,"v":2.8,"s":"k2"},{"f":106950,"v":2.65,"s":"k2"},{"f":107000,"v":2.78,"s":"k2"},{"f":107060,"v":2.68,"s":"k2"},{"f":107120,"v":2.79,"s":"k2"},{"f":107180,"v":2.7,"s":"k2"},{"f":107250,"v":2.78,"s":"k2"},{"f":107320,"v":2.68,"s":"k2"},{"f":107400,"v":2.8,"s":"k2"},{"f":107480,"v":2.72,"s":"k2"},{"f":107560,"v":2.79,"s":"k2"},{"f":107640,"v":2.7,"s":"k2"},{"f":107720,"v":2.78,"s":"k2"},{"f":107800,"v":2.74,"s":"k2"},{"f":107900,"v":2.79,"s":"k2"},{"f":108000,"v":2.75,"s":"k2"},{"f":108100,"v":2.8,"s":"k2"},{"f":108200,"v":2.74,"s":"k2"},{"f":108300,"v":2.79,"s":"k2"},{"f":108400,"v":2.76,"s":"k2"},{"f":108480,"v":2.8,"s":"k2"},{"f":108520,"v":2.65,"s":"k2"},{"f":108560,"v":2.85,"s":"k2"},{"f":108600,"v":2.55,"s":"k2"},{"f":108630,"v":2.95,"s":"k2"},{"f":108660,"v":3.07,"s":"k2"},{"f":108690,"v":2.35,"s":"k2"},{"f":108720,"v":2.9,"s":"k2"},{"f":108750,"v":2.3,"s":"k2"},{"f":108780,"v":2.95,"s":"k2"},{"f":108820,"v":2.07,"s":"k2"},{"f":108850,"v":2.9,"s":"k2"},{"f":108880,"v":2.2,"s":"k2"},{"f":108910,"v":3.0,"s":"k2"},{"f":108940,"v":2.05,"s":"k2"},{"f":108970,"v":2.95,"s":"k2"},{"f":109000,"v":2.1,"s":"k2"},{"f":109030,"v":3.05,"s":"k2"},{"f":109060,"v":1.95,"s":"k2"},{"f":109090,"v":3.0,"s":"k2"},{"f":109120,"v":2.0,"s":"k2"},{"f":109150,"v":2.9,"s":"k2"},{"f":109180,"v":4.95,"s":"k2"},{"f":109200,"v":1.85,"s":"k2"},{"f":109230,"v":3.0,"s":"k2"},{"f":109260,"v":1.71,"s":"k2"},{"f":109290,"v":3.1,"s":"k2"},{"f":109320,"v":1.9,"s":"k2"},{"f":109350,"v":3.05,"s":"k2"},{"f":109380,"v":2.0,"s":"k2"},{"f":109410,"v":2.95,"s":"k2"},{"f":109440,"v":1.8,"s":"k2"},{"f":109470,"v":3.0,"s":"k2"},{"f":109500,"v":2.05,"s":"k2"},{"f":109530,"v":2.95,"s":"k2"},{"f":109560,"v":2.15,"s":"k2"},{"f":109610,"v":3.4,"s":"k2"},{"f":109630,"v":1.95,"s":"k2"},{"f":109670,"v":2.9,"s":"k2"},{"f":109700,"v":2.2,"s":"k2"},{"f":109740,"v":3.2,"s":"k2"},{"f":109770,"v":2.3,"s":"k2"},{"f":109800,"v":2.9,"s":"k2"},{"f":109840,"v":2.1,"s":"k2"},{"f":109880,"v":3.0,"s":"k2"},{"f":109920,"v":2.3,"s":"k2"},{"f":109960,"v":2.9,"s":"k2"},{"f":110000,"v":2.35,"s":"k2"},{"f":110040,"v":2.85,"s":"k2"},{"f":110080,"v":2.4,"s":"k2"},{"f":110120,"v":2.9,"s":"k2"},{"f":110160,"v":2.5,"s":"k2"},{"f":110200,"v":2.85,"s":"k2"},{"f":110230,"v":2.45,"s":"k2"},{"f":110260,"v":3.53,"s":"k2"},{"f":110280,"v":2.4,"s":"k2"},{"f":110320,"v":2.85,"s":"k2"},{"f":110360,"v":2.55,"s":"k2"},{"f":110400,"v":2.8,"s":"k2"},{"f":110440,"v":2.6,"s":"k2"},{"f":110500,"v":2.82,"s":"k2"},{"f":110560,"v":2.62,"s":"k2"},{"f":110620,"v":2.8,"s":"k2"},{"f":110680,"v":2.7,"s":"k2"},{"f":110740,"v":2.83,"s":"k2"},{"f":110800,"v":2.55,"s":"k2"},{"f":110850,"v":2.8,"s":"k2"},{"f":110900,"v":2.72,"s":"k2"},{"f":110960,"v":2.82,"s":"k2"},{"f":111020,"v":2.74,"s":"k2"},{"f":111100,"v":2.83,"s":"k2"},{"f":111180,"v":2.75,"s":"k2"},{"f":111260,"v":2.82,"s":"k2"},{"f":111340,"v":2.76,"s":"k2"},{"f":111420,"v":2.82,"s":"k2"},{"f":111500,"v":2.74,"s":"k2"},{"f":111580,"v":2.83,"s":"k2"},{"f":111650,"v":2.72,"s":"k2"},{"f":111720,"v":2.85,"s":"k2"},{"f":111780,"v":2.6,"s":"k2"},{"f":111830,"v":3.62,"s":"k2"},{"f":111850,"v":2.4,"s":"k2"},{"f":111880,"v":2.9,"s":"k2"},{"f":111910,"v":2.5,"s":"k2"},{"f":111940,"v":3.0,"s":"k2"},{"f":111970,"v":2.45,"s":"k2"},{"f":112000,"v":2.95,"s":"k2"},{"f":112030,"v":2.55,"s":"k2"},{"f":112060,"v":2.9,"s":"k2"},{"f":112090,"v":2.5,"s":"k2"},{"f":112120,"v":3.0,"s":"k2"},{"f":112150,"v":2.6,"s":"k2"},{"f":112180,"v":2.88,"s":"k2"},{"f":112210,"v":2.55,"s":"k2"},{"f":112250,"v":2.92,"s":"k2"},{"f":112290,"v":2.65,"s":"k2"},{"f":112330,"v":2.88,"s":"k2"},{"f":112370,"v":2.62,"s":"k2"},{"f":112420,"v":2.9,"s":"k2"},{"f":112470,"v":2.68,"s":"k2"},{"f":112520,"v":2.88,"s":"k2"},{"f":112570,"v":2.7,"s":"k2"},{"f":112620,"v":2.86,"s":"k2"},{"f":112680,"v":2.72,"s":"k2"},{"f":112740,"v":2.87,"s":"k2"},{"f":112800,"v":2.74,"s":"k2"},{"f":112860,"v":2.85,"s":"k2"},{"f":112940,"v":2.8,"s":"k2"}
    ],
    "box": [{"x1": 87800, "x2": 88800, "y1": 1.5, "y2": 4}],
    "lbl": [{"f": 76359, "v": 6.65, "t": "f"}],
    "pt": [{"f": 95000, "v": 3}],
    "pt2": [{"f": 88300, "v": 3}]
  },
  "vconcat": [
    {
      "width": 625,
      "height": 321,
      "view": {"stroke": "black", "strokeWidth": 1.5},
      "resolve": {"axis": {"x": "independent", "y": "independent"}},
      "layer": [
        {
          "data": {"name": "spec"},
          "mark": {"type": "line", "strokeWidth": 1.3, "clip": true},
          "encoding": {
            "x": {"field": "f", "type": "quantitative", "scale": {"domain": [81333, 113385], "nice": false, "zero": false},
                  "axis": {"orient": "bottom", "values": [90000, 100000, 110000], "format": "d", "tickSize": -11, "labelPadding": 22, "title": "Observing Frequency (MHz)", "titlePadding": 4}},
            "y": {"field": "v", "type": "quantitative", "scale": {"domain": [1, 8], "nice": false, "zero": false},
                  "axis": {"orient": "left", "values": [2, 4, 6, 8], "tickSize": -11, "labelPadding": 21, "title": "Flux (Jy/beam)", "titlePadding": 38}},
            "color": {"field": "s", "type": "nominal", "scale": {"domain": ["o1", "k1", "o2", "k2"], "range": ["#d8702a", "#000000", "#d8702a", "#000000"]}, "legend": null},
            "detail": {"field": "s"}
          }
        },
        {
          "data": {"name": "pt"},
          "mark": {"type": "point", "opacity": 0},
          "encoding": {
            "x": {"field": "f", "type": "quantitative", "scale": {"domain": [81333, 113385], "nice": false, "zero": false},
                  "axis": {"orient": "bottom", "values": [82000, 84000, 86000, 88000, 92000, 94000, 96000, 98000, 102000, 104000, 106000, 108000, 112000], "tickSize": -6, "labels": false, "title": null}},
            "y": {"field": "v", "type": "quantitative", "scale": {"domain": [1, 8], "nice": false, "zero": false},
                  "axis": {"orient": "left", "values": [1.5, 2.5, 3, 3.5, 4.5, 5, 5.5, 6.5, 7, 7.5], "tickSize": -6, "labels": false, "title": null}}
          }
        },
        {
          "data": {"name": "pt"},
          "mark": {"type": "point", "opacity": 0},
          "encoding": {
            "x": {"field": "f", "type": "quantitative", "scale": {"domain": [81333, 113385], "nice": false, "zero": false},
                  "axis": {"orient": "top", "values": [90000, 100000, 110000], "tickSize": -11, "labels": false, "title": null}},
            "y": {"field": "v", "type": "quantitative", "scale": {"domain": [1, 8], "nice": false, "zero": false},
                  "axis": {"orient": "right", "values": [2, 4, 6, 8], "tickSize": -11, "labels": false, "title": null}}
          }
        },
        {
          "data": {"name": "pt"},
          "mark": {"type": "point", "opacity": 0},
          "encoding": {
            "x": {"field": "f", "type": "quantitative", "scale": {"domain": [81333, 113385], "nice": false, "zero": false},
                  "axis": {"orient": "top", "values": [82000, 84000, 86000, 88000, 92000, 94000, 96000, 98000, 102000, 104000, 106000, 108000, 112000], "tickSize": -6, "labels": false, "title": null}},
            "y": {"field": "v", "type": "quantitative", "scale": {"domain": [1, 8], "nice": false, "zero": false},
                  "axis": {"orient": "right", "values": [1.5, 2.5, 3, 3.5, 4.5, 5, 5.5, 6.5, 7, 7.5], "tickSize": -6, "labels": false, "title": null}}
          }
        },
        {
          "data": {"name": "box"},
          "mark": {"type": "rect", "fill": null, "fillOpacity": 0, "stroke": "#1a1aff", "strokeWidth": 1.5},
          "encoding": {
            "x": {"field": "x1", "type": "quantitative", "scale": {"domain": [81333, 113385], "nice": false, "zero": false}, "axis": null},
            "x2": {"field": "x2"},
            "y": {"field": "y1", "type": "quantitative", "scale": {"domain": [1, 8], "nice": false, "zero": false}, "axis": null},
            "y2": {"field": "y2"}
          }
        },
        {
          "data": {"name": "lbl"},
          "mark": {"type": "text", "align": "left", "baseline": "middle", "font": "DejaVu Sans", "fontSize": 38, "color": "black"},
          "encoding": {
            "x": {"field": "f", "type": "quantitative", "scale": {"domain": [81333, 113385], "nice": false, "zero": false}, "axis": null},
            "y": {"field": "v", "type": "quantitative", "scale": {"domain": [1, 8], "nice": false, "zero": false}, "axis": null},
            "text": {"field": "t"}
          }
        }
      ]
    },
    {
      "width": 625,
      "height": 234,
      "view": {"stroke": "#1a1ae0", "strokeWidth": 2},
      "resolve": {"axis": {"x": "independent", "y": "independent"}},
      "layer": [
        {
          "data": {"name": "spec"},
          "transform": [{"filter": "datum.f >= 87700 && datum.f <= 88900"}],
          "mark": {"type": "line", "strokeWidth": 2, "clip": true},
          "encoding": {
            "x": {"field": "f", "type": "quantitative", "scale": {"domain": [87800, 88800], "nice": false, "zero": false},
                  "axis": {"orient": "bottom", "values": [87800, 88000, 88200, 88400, 88600, 88800], "format": "d", "tickSize": -11, "labelPadding": 22, "title": "Observing Frequency (MHz)", "titlePadding": 4}},
            "y": {"field": "v", "type": "quantitative", "scale": {"domain": [1.5, 4], "nice": false, "zero": false},
                  "axis": {"orient": "left", "values": [2, 3, 4], "tickSize": -11, "labelPadding": 21, "title": "Flux (Jy/beam)", "titlePadding": 38}},
            "color": {"field": "s", "type": "nominal", "scale": {"domain": ["o1", "k1", "o2", "k2"], "range": ["#d8702a", "#000000", "#d8702a", "#000000"]}, "legend": null},
            "detail": {"field": "s"}
          }
        },
        {
          "data": {"name": "pt2"},
          "mark": {"type": "point", "opacity": 0},
          "encoding": {
            "x": {"field": "f", "type": "quantitative", "scale": {"domain": [87800, 88800], "nice": false, "zero": false},
                  "axis": {"orient": "bottom", "values": [87850, 87900, 87950, 88050, 88100, 88150, 88250, 88300, 88350, 88450, 88500, 88550, 88650, 88700, 88750], "tickSize": -6, "labels": false, "title": null}},
            "y": {"field": "v", "type": "quantitative", "scale": {"domain": [1.5, 4], "nice": false, "zero": false},
                  "axis": {"orient": "right", "values": [2, 3, 4], "tickSize": -11, "labels": false, "title": null}}
          }
        },
        {
          "data": {"name": "pt2"},
          "mark": {"type": "point", "opacity": 0},
          "encoding": {
            "x": {"field": "f", "type": "quantitative", "scale": {"domain": [87800, 88800], "nice": false, "zero": false},
                  "axis": {"orient": "top", "values": [88000, 88200, 88400, 88600], "tickSize": -11, "labels": false, "title": null}},
            "y": {"field": "v", "type": "quantitative", "scale": {"domain": [1.5, 4], "nice": false, "zero": false}, "axis": null}
          }
        },
        {
          "data": {"name": "pt2"},
          "mark": {"type": "point", "opacity": 0},
          "encoding": {
            "x": {"field": "f", "type": "quantitative", "scale": {"domain": [87800, 88800], "nice": false, "zero": false},
                  "axis": {"orient": "top", "values": [87850, 87900, 87950, 88050, 88100, 88150, 88250, 88300, 88350, 88450, 88500, 88550, 88650, 88700, 88750], "tickSize": -6, "labels": false, "title": null}},
            "y": {"field": "v", "type": "quantitative", "scale": {"domain": [1.5, 4], "nice": false, "zero": false}, "axis": null}
          }
        }
      ]
    }
  ]
}
